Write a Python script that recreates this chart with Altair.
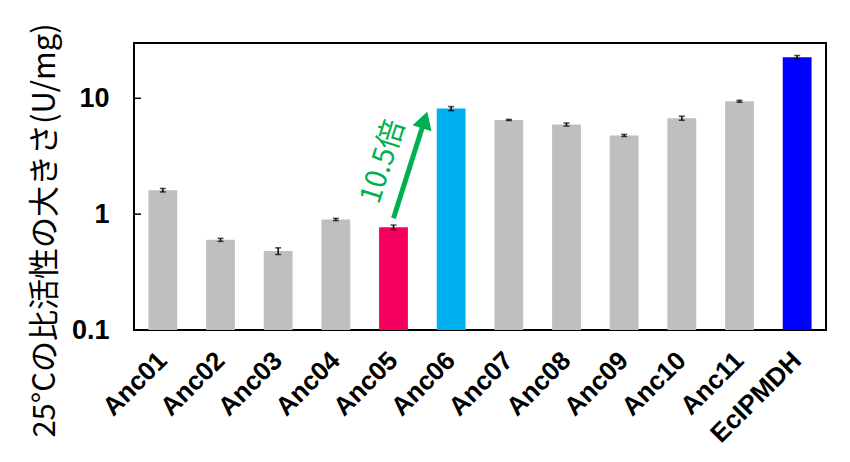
import altair as alt
import pandas as pd

names = ["Anc01", "Anc02", "Anc03", "Anc04", "Anc05", "Anc06",
         "Anc07", "Anc08", "Anc09", "Anc10", "Anc11", "EcIPMDH"]
values = [1.61, 0.60, 0.48, 0.90, 0.77, 8.15, 6.50, 5.94, 4.78, 6.73, 9.42, 22.6]
errors = [0.055, 0.018, 0.032, 0.02, 0.035, 0.33, 0.07, 0.18, 0.10, 0.27, 0.18, 0.8]
colors = ["#BFBFBF", "#BFBFBF", "#BFBFBF", "#BFBFBF", "#F5005F", "#00B0F0",
          "#BFBFBF", "#BFBFBF", "#BFBFBF", "#BFBFBF", "#BFBFBF", "#0000FF"]
ytick_values = [0.1, 1, 10]
y_title = "25°Cの比活性の大きさ(U/mg)"

# annotation: arrow from Anc05 toward Anc06 (x in bar-index units, y in U/mg)
arrow_x = [4.50, 5.04]
arrow_y = [0.92, 6.49]
head_x = [5.04]
head_y = [6.49]
note_x = [4.32]
note_y = [2.83]
note_text = ["10.5倍"]

df = pd.DataFrame({"name": names, "value": values, "err": errors, "color": colors})
df["lo"] = df["value"] - df["err"]
df["hi"] = df["value"] + df["err"]
caps = pd.concat([
    pd.DataFrame({"name": names, "v": df["lo"]}),
    pd.DataFrame({"name": names, "v": df["hi"]}),
])

yscale = alt.Scale(type="log", domain=[0.1, 30], nice=False)
xscale = alt.Scale(paddingInner=0.5, paddingOuter=0.25)
qx = alt.Scale(domain=[0, 12], nice=False, zero=False)

xaxis = alt.Axis(title=None, labelAngle=-45, labelAlign="right", labelBaseline="middle",
                 labelFont="Liberation Sans", labelFontWeight="bold", labelFontSize=26,
                 labelColor="black", ticks=False, domain=False, labelPadding=26)
yaxis = alt.Axis(values=ytick_values, format="~g", title=y_title, ticks=False, domain=False,
                 grid=False, labelFont="Liberation Sans", labelFontWeight="bold",
                 labelFontSize=27, labelColor="black", labelPadding=25,
                 titleFont="Noto Sans CJK JP", titleFontWeight="normal", titleFontSize=31,
                 titleColor="black", titleX=-89, titleY=187, titleBaseline="middle",
                 titleAlign="center", titleAngle=270)

bars = alt.Chart(df).mark_bar().encode(
    x=alt.X("name:N", sort=names, scale=xscale, axis=xaxis),
    y=alt.Y("value:Q", scale=yscale, axis=yaxis),
    y2=alt.datum(0.1),
    color=alt.Color("color:N", scale=None),
)
err_rule = alt.Chart(df).mark_rule(color="black", strokeWidth=1.5).encode(
    x=alt.X("name:N", sort=names, scale=xscale),
    y=alt.Y("lo:Q", scale=yscale),
    y2="hi:Q",
)
err_caps = alt.Chart(caps).mark_tick(color="black", size=6, thickness=1.5).encode(
    x=alt.X("name:N", sort=names, scale=xscale),
    y=alt.Y("v:Q", scale=yscale),
)
base = alt.layer(bars, err_rule, err_caps)

ticks_df = pd.DataFrame({"t": ytick_values})
yticks = alt.Chart(ticks_df).mark_rule(color="black", strokeWidth=1.5).encode(
    y=alt.Y("t:Q", scale=yscale),
    x=alt.value(0),
    x2=alt.value(7),
)

arrow_df = pd.DataFrame({"ax": arrow_x, "ay": arrow_y})
arrow_line = alt.Chart(arrow_df).mark_line(color="#00B050", strokeWidth=5).encode(
    x=alt.X("ax:Q", scale=qx, axis=None),
    y=alt.Y("ay:Q", scale=yscale),
)
head_df = pd.DataFrame({"hx": head_x, "hy": head_y})
arrow_head = alt.Chart(head_df).mark_point(shape="triangle-up", filled=True, color="#00B050",
                                          size=400, angle=17.7, opacity=1).encode(
    x=alt.X("hx:Q", scale=qx, axis=None),
    y=alt.Y("hy:Q", scale=yscale),
)
note_df = pd.DataFrame({"nx": note_x, "ny": note_y, "txt": note_text})
note = alt.Chart(note_df).mark_text(color="#00B050", font="Noto Sans CJK JP", fontSize=29,
                                    angle=287.7, align="center", baseline="middle").encode(
    x=alt.X("nx:Q", scale=qx, axis=None),
    y=alt.Y("ny:Q", scale=yscale),
    text="txt:N",
)

chart = alt.layer(base, yticks, arrow_line, arrow_head, note).resolve_scale(
    x="independent"
).properties(
    width=692, height=287,
    autosize=alt.AutoSizeParams(type="none"),
    padding={"left": 126, "top": 35, "right": 16, "bottom": 125},
    background="white",
).configure_view(stroke="black", strokeWidth=2)

chart.save("out.html", embed_options={"renderer": "svg", "actions": False})
